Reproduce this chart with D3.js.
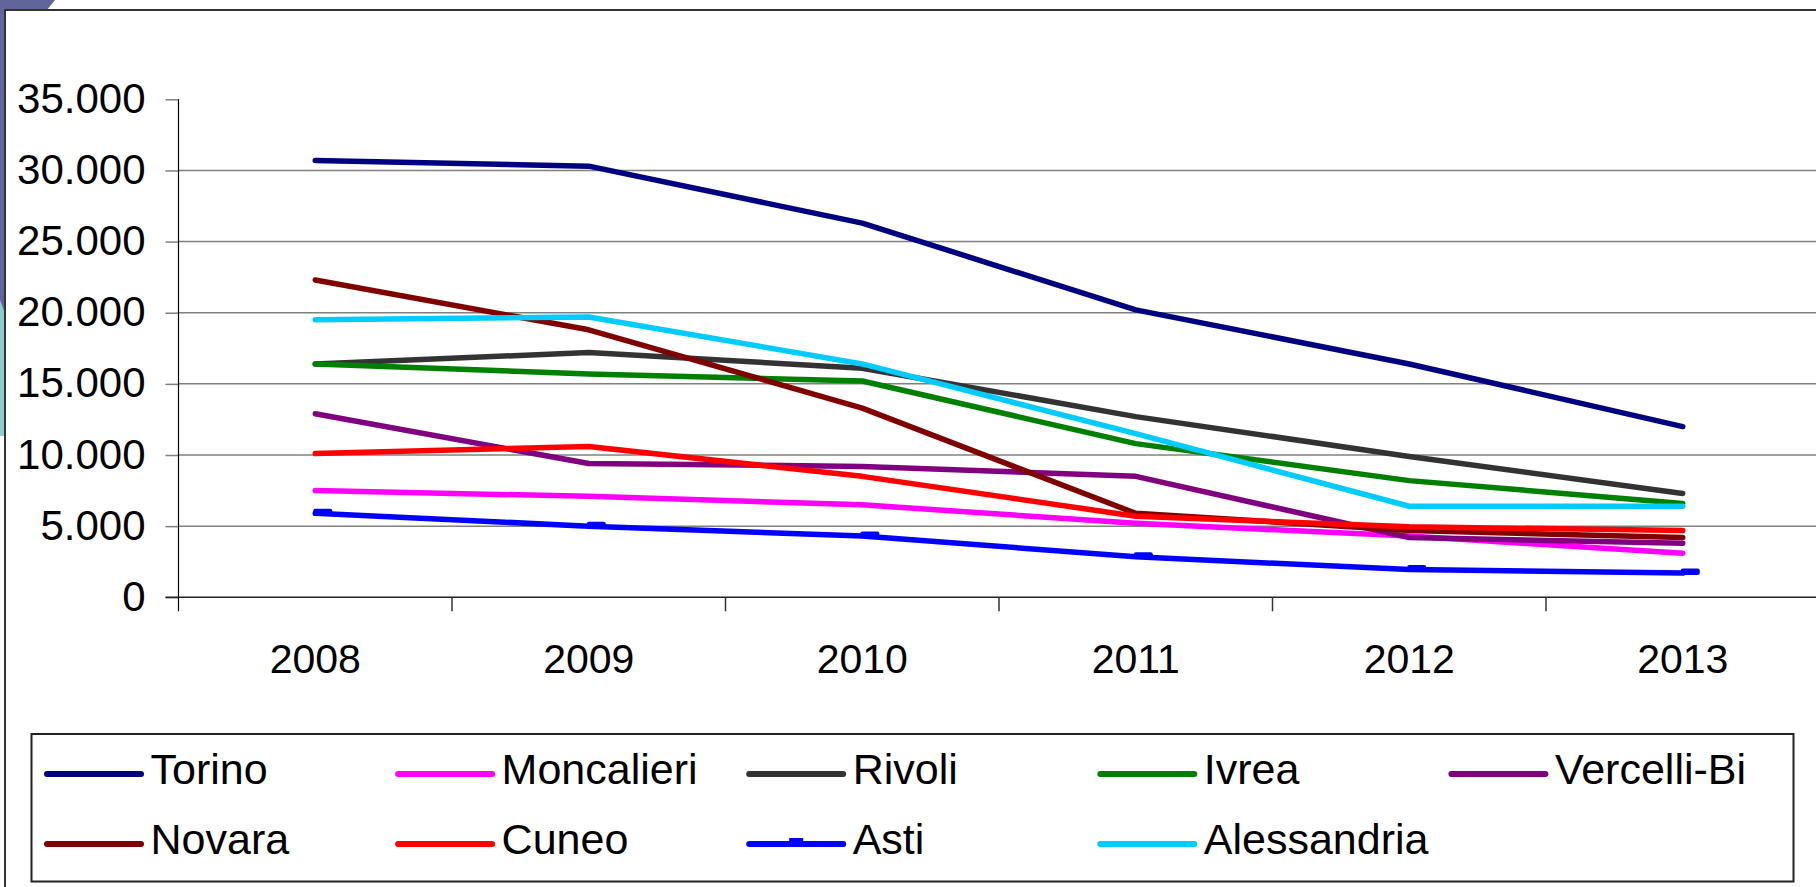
<!DOCTYPE html>
<html><head><meta charset="utf-8">
<script src="https://cdn.jsdelivr.net/npm/d3@7"></script>
<style>
body{margin:0;background:#fff;overflow:hidden;}
svg{display:block;}
text{font-family:"Liberation Sans",Arial,sans-serif;fill:#000;}
</style>
</head><body>
<svg id="c" width="1816" height="887"></svg>
<script>
// ---- data ----
const years = ["2008","2009","2010","2011","2012","2013"];
const seriesNames = ["Torino","Moncalieri","Rivoli","Ivrea","Vercelli-Bi","Novara","Cuneo","Asti","Alessandria"];
const seriesColors = ["#000080","#FF00FF","#333333","#008000","#800080","#800000","#FF0000","#0000FF","#00CCFF"];
const torino      = [30700,30300,26300,20200,16400,12000];
const moncalieri  = [7500,7100,6500,5200,4300,3100];
const rivoli      = [16400,17200,16100,12700,9900,7300];
const ivrea       = [16400,15700,15200,10800,8200,6600];
const vercelli    = [12900,9400,9200,8500,4200,3800];
const novara      = [22300,18800,13300,5900,4700,4200];
const cuneo       = [10100,10600,8500,5700,4950,4700];
const asti        = [5900,5000,4300,2850,1950,1700];
const alessandria = [19500,19700,16400,11500,6400,6400];
const yTicks = [0,5000,10000,15000,20000,25000,30000,35000];
const seriesValues = [torino,moncalieri,rivoli,ivrea,vercelli,novara,cuneo,asti,alessandria];

// ---- layout ----
const svg = d3.select("#c");
const plot = {left:178.5, right:1819.5, top:99.3, bottom:597.3};

// slide decoration
svg.append("path").attr("d","M0,0 H55 Q50,6 47,10 H4.5 V318 H0 Z").attr("fill","#62649c");
svg.append("path").attr("d","M0,300 L4.5,312 V436 H0 Z").attr("fill","#8fcacc");
// chart frame
svg.append("rect").attr("x",5).attr("y",10).attr("width",1830).attr("height",900)
  .attr("fill","#fff").attr("stroke","#333").attr("stroke-width",2);

const x = d3.scaleBand().domain(years).range([plot.left, plot.right]).padding(0);
const y = d3.scaleLinear().domain([0,35000]).range([plot.bottom, plot.top]);
const fmt = d => d3.format(",")(d).replace(/,/g,".");

// gridlines
svg.append("g").selectAll("line").data(yTicks.filter(v=>v>0 && v<35000)).join("line")
  .attr("x1",plot.left).attr("x2",1816).attr("y1",d=>y(d)).attr("y2",d=>y(d))
  .attr("stroke","#808080").attr("stroke-width",1.5);

// y axis
const yAxis = svg.append("g").attr("transform",`translate(${plot.left},0)`)
  .call(d3.axisLeft(y).tickValues(yTicks).tickSize(13).tickPadding(20).tickFormat(fmt));
yAxis.select(".domain").remove();
yAxis.selectAll(".tick line").attr("stroke","#808080").attr("stroke-width",1.5);
yAxis.selectAll("text").attr("font-size","42px").attr("dy","0.31em")
  .attr("font-family","'Liberation Sans',Arial,sans-serif");
svg.append("line").attr("x1",plot.left).attr("x2",plot.left).attr("y1",plot.top).attr("y2",plot.bottom+14)
  .attr("stroke","#000").attr("stroke-width",1.2);

// x axis
svg.append("line").attr("x1",plot.left-13).attr("x2",1816).attr("y1",plot.bottom).attr("y2",plot.bottom)
  .attr("stroke","#222").attr("stroke-width",1.5);
const bounds = years.map(d=>x(d)).concat([x(years[years.length-1])+x.bandwidth()]);
svg.append("g").selectAll("line").data(bounds.slice(1)).join("line")
  .attr("x1",d=>d).attr("x2",d=>d).attr("y1",plot.bottom).attr("y2",plot.bottom+14)
  .attr("stroke","#333").attr("stroke-width",1.5);
svg.append("g").selectAll("text").data(years).join("text")
  .attr("x",d=>x(d)+x.bandwidth()/2).attr("y",673).attr("text-anchor","middle")
  .attr("font-size","41px").text(d=>d);

// lines
const line = d3.line().x((d,i)=>x(years[i])+x.bandwidth()/2).y(d=>y(d));
const gLines = svg.append("g");
seriesValues.forEach((vals,k)=>{
  gLines.append("path").attr("d",line(vals)).attr("fill","none")
    .attr("stroke",seriesColors[k]).attr("stroke-width",5.5)
    .attr("stroke-linecap","round").attr("stroke-linejoin","round");
  if(seriesNames[k]==="Asti"){
    gLines.selectAll(null).data(vals).join("rect")
      .attr("x",(d,i)=>x(years[i])+x.bandwidth()/2-2).attr("y",d=>y(d)-4.5)
      .attr("width",19).attr("height",6.5).attr("rx",2)
      .attr("fill",seriesColors[k]);
  }
});

// legend
svg.append("rect").attr("x",31.5).attr("y",734).attr("width",1762).attr("height",147.5)
  .attr("fill","#fff").attr("stroke","#222").attr("stroke-width",2);
const leg = svg.append("g");
seriesNames.forEach((name,k)=>{
  const col = k%5, row = Math.floor(k/5);
  const lx = 44 + col*351.1, ly = row===0 ? 774 : 844;
  leg.append("line").attr("x1",lx+3).attr("x2",lx+97).attr("y1",ly).attr("y2",ly)
    .attr("stroke",seriesColors[k]).attr("stroke-width",6).attr("stroke-linecap","round");
  if(name==="Asti"){
    leg.append("rect").attr("x",lx+43).attr("y",ly-6).attr("width",14).attr("height",6).attr("fill",seriesColors[k]);
  }
  leg.append("text").attr("x",lx+106.5).attr("y",ly+9.5).attr("font-size","43px").text(name);
});
</script>
</body></html>
